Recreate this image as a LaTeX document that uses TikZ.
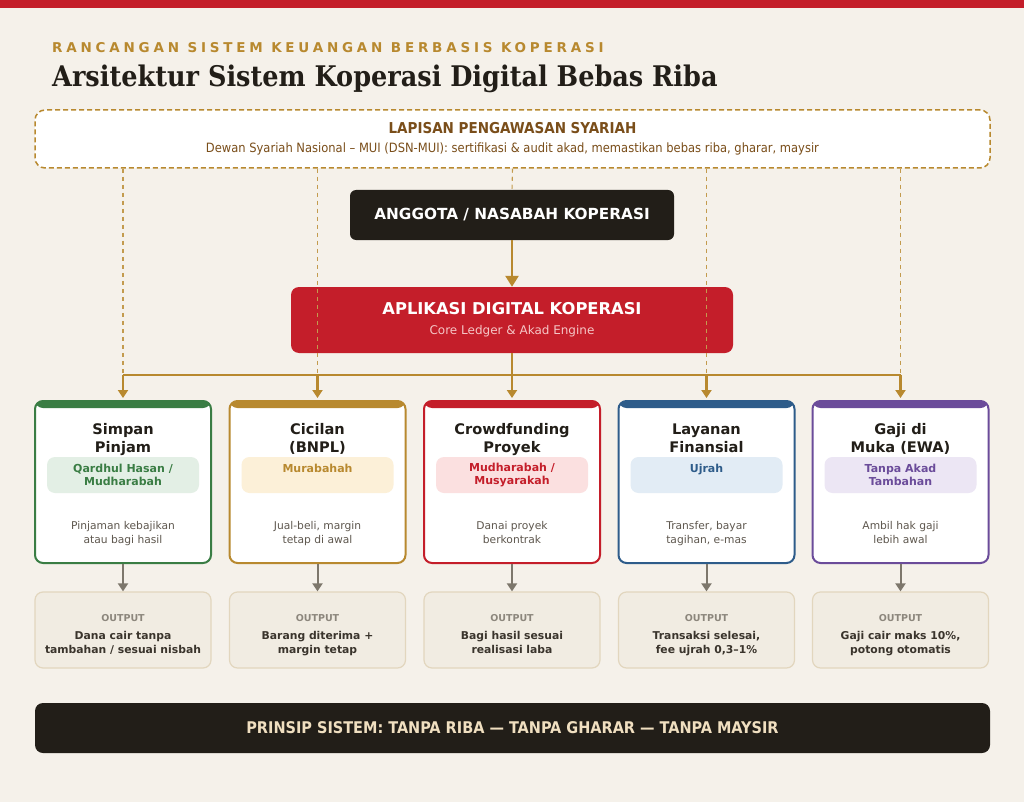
\documentclass[tikz,border=0pt]{standalone}
\usepackage{fontspec}
\setmainfont{DejaVu Sans}
\newfontfamily\condf{DejaVu Sans Condensed}
\newfontfamily\serifc{DejaVu Serif Condensed}
\newfontfamily\spacedf[LetterSpace=28]{DejaVu Sans}
\usetikzlibrary{arrows.meta}
\definecolor{bg}{HTML}{F5F1EA}
\definecolor{cred}{HTML}{C41E2A}
\definecolor{gold}{HTML}{B8892F}
\definecolor{ink}{HTML}{221E18}
\definecolor{brown}{HTML}{7A4E1A}
\definecolor{cgreen}{HTML}{3A7D44}
\definecolor{cgreenl}{HTML}{E3EFE5}
\definecolor{cgoldl}{HTML}{FCF0D8}
\definecolor{credl}{HTML}{FBE0E0}
\definecolor{cblue}{HTML}{2E5C8A}
\definecolor{cbluel}{HTML}{E2ECF5}
\definecolor{cpurple}{HTML}{6B4C9A}
\definecolor{cpurplel}{HTML}{ECE6F4}
\definecolor{outfill}{HTML}{F1ECE2}
\definecolor{outborder}{HTML}{E2D6BE}
\definecolor{outlabc}{HTML}{8C867C}
\definecolor{outtxtc}{HTML}{3A342C}
\definecolor{descc}{HTML}{5E574E}
\definecolor{arrowgray}{HTML}{7D776C}
\definecolor{pinksub}{HTML}{F5C6C6}
\definecolor{cream}{HTML}{F0DFC0}
\tikzset{
  cardbox/.style={line width=2pt, fill=white, rounded corners=8pt, minimum width=176pt, minimum height=162pt, inner sep=0pt},
  cardtitle/.style={anchor=base, align=center, inner sep=0pt, text=ink, font=\bfseries\fontsize{14.6}{18}\selectfont},
  pillbox/.style={rounded corners=8pt, minimum width=152pt, minimum height=36pt, inner sep=0pt, align=center, font=\bfseries\fontsize{11}{13}\selectfont},
  desctext/.style={anchor=base, align=center, inner sep=0pt, text=descc, font=\fontsize{10.7}{13.5}\selectfont},
  outbox/.style={draw=outborder, line width=1.2pt, fill=outfill, rounded corners=8pt, minimum width=176pt, minimum height=76pt, inner sep=0pt},
  outlab/.style={anchor=base, inner sep=0pt, text=outlabc, font=\bfseries\fontsize{9.5}{11}\selectfont},
  outtxt/.style={anchor=base, align=center, inner sep=0pt, text=outtxtc, font=\bfseries\fontsize{10.8}{14}\selectfont},
  goldline/.style={draw=gold, line width=2.5pt},
  goldarrow/.style={draw=gold, line width=2.5pt, -{Triangle[width=10pt,length=8pt]}},
  mainarrow/.style={draw=gold, line width=2.5pt, -{Triangle[width=13pt,length=11pt]}},
  grayarrow/.style={draw=arrowgray, line width=2pt, -{Triangle[width=10pt,length=8pt]}},
  vdash/.style={draw=gold!85, line width=1.1pt, dash pattern=on 4pt off 4pt},
}
\newcommand\mkcard[8]{%
  \node[cardbox, draw=#3, path picture={\fill[#3] (path picture bounding box.north west) rectangle ([yshift=-7pt]path picture bounding box.north east);}] (card#1) at (#2,482) {};
  \node[cardtitle] (card#1t) at (#2,452) {#5};
  \node[pillbox, fill=#4, text=#3] (card#1p) at (#2,475) {#6};
  \node[desctext] (card#1d) at (#2,543) {#7};
  \node[outbox] (out#1) at (#2,630) {};
  \node[outlab] (out#1l) at (#2,621) {OUTPUT};
  \node[outtxt] (out#1t) at (#2,653) {#8};
}
\begin{document}
\begin{tikzpicture}[x=1pt,y=-1pt]
\useasboundingbox (0,0) rectangle (1024,802);
\fill[bg] (0,0) rectangle (1024,802);
\fill[cred] (0,0) rectangle (1024,8);
\node[anchor=base west, inner sep=0pt, text=gold, font=\spacedf\bfseries\fontsize{13.5}{16}\selectfont] (kicker) at (52,53) {RANCANGAN SISTEM KEUANGAN BERBASIS KOPERASI};
\node[anchor=base west, inner sep=0pt, text=ink, font=\serifc\bfseries\fontsize{28.4}{32}\selectfont] (title) at (52,87) {Arsitektur Sistem Koperasi Digital Bebas Riba};
% supervision layer
\node[draw=gold, line width=1.5pt, dash pattern=on 5pt off 3pt, fill=white, rounded corners=10pt, minimum width=955pt, minimum height=58pt] (lapis) at (512.5,139) {};
\node[anchor=base, inner sep=0pt, text=brown, font=\condf\bfseries\fontsize{15}{17}\selectfont] (lapist) at (512.5,134) {LAPISAN PENGAWASAN SYARIAH};
\node[anchor=base, inner sep=0pt, text=brown, font=\condf\fontsize{12.8}{15}\selectfont] (lapiss) at (512.5,153) {Dewan Syariah Nasional – MUI (DSN-MUI): sertifikasi \& audit akad, memastikan bebas riba, gharar, maysir};
% member
\node[fill=ink, rounded corners=6pt, minimum width=324pt, minimum height=50pt, text=white, font=\bfseries\fontsize{15.3}{17}\selectfont] (anggota) at (512,215) {ANGGOTA / NASABAH KOPERASI};
% app
\node[fill=cred, rounded corners=8pt, minimum width=442pt, minimum height=66pt] (app) at (512,320) {};
\node[anchor=base, inner sep=0pt, text=white, font=\bfseries\fontsize{16.3}{18}\selectfont] (appt) at (512,314) {APLIKASI DIGITAL KOPERASI};
\node[anchor=base, inner sep=0pt, text=pinksub, font=\fontsize{12}{14}\selectfont] (apps) at (512,334) {Core Ledger \& Akad Engine};
% cards
\mkcard{1}{123}{cgreen}{cgreenl}{Simpan\\Pinjam}{Qardhul Hasan /\\Mudharabah}{Pinjaman kebajikan\\atau bagi hasil}{Dana cair tanpa\\tambahan / sesuai nisbah}
\mkcard{2}{317.5}{gold}{cgoldl}{Cicilan\\(BNPL)}{Murabahah\\\mbox{}}{Jual-beli, margin\\tetap di awal}{Barang diterima +\\margin tetap}
\mkcard{3}{512}{cred}{credl}{Crowdfunding\\Proyek}{Mudharabah /\\Musyarakah}{Danai proyek\\berkontrak}{Bagi hasil sesuai\\realisasi laba}
\mkcard{4}{706.5}{cblue}{cbluel}{Layanan\\Finansial}{Ujrah\\\mbox{}}{Transfer, bayar\\tagihan, e-mas}{Transaksi selesai,\\fee ujrah 0,3–1\%}
\mkcard{5}{900.5}{cpurple}{cpurplel}{Gaji di\\Muka (EWA)}{Tanpa Akad\\Tambahan}{Ambil hak gaji\\lebih awal}{Gaji cair maks 10\%,\\potong otomatis}
% banner
\node[fill=ink, rounded corners=8pt, minimum width=955pt, minimum height=50pt, text=cream, font=\condf\bfseries\fontsize{16.1}{18}\selectfont] (banner) at (512.5,728) {PRINSIP SISTEM: TANPA RIBA — TANPA GHARAR — TANPA MAYSIR};
% connectors
\coordinate (bus) at (512,375);
\draw[vdash] (lapis.south) -- (anggota.north);
\foreach \i in {1,2,4,5} \draw[vdash] (lapis.south -| card\i.north) -- (card\i.north |- bus);
\draw[mainarrow] (anggota.south) -- (app.north);
\draw[goldline] (app.south) -- (bus);
\draw[goldline] (card1.north |- bus) -- (card5.north |- bus);
\foreach \i in {1,...,5} {
  \draw[goldarrow, shorten >=2pt] (card\i.north |- bus) -- (card\i.north);
  \draw[grayarrow] (card\i.south) -- (out\i.north);
}
\end{tikzpicture}
\end{document}
